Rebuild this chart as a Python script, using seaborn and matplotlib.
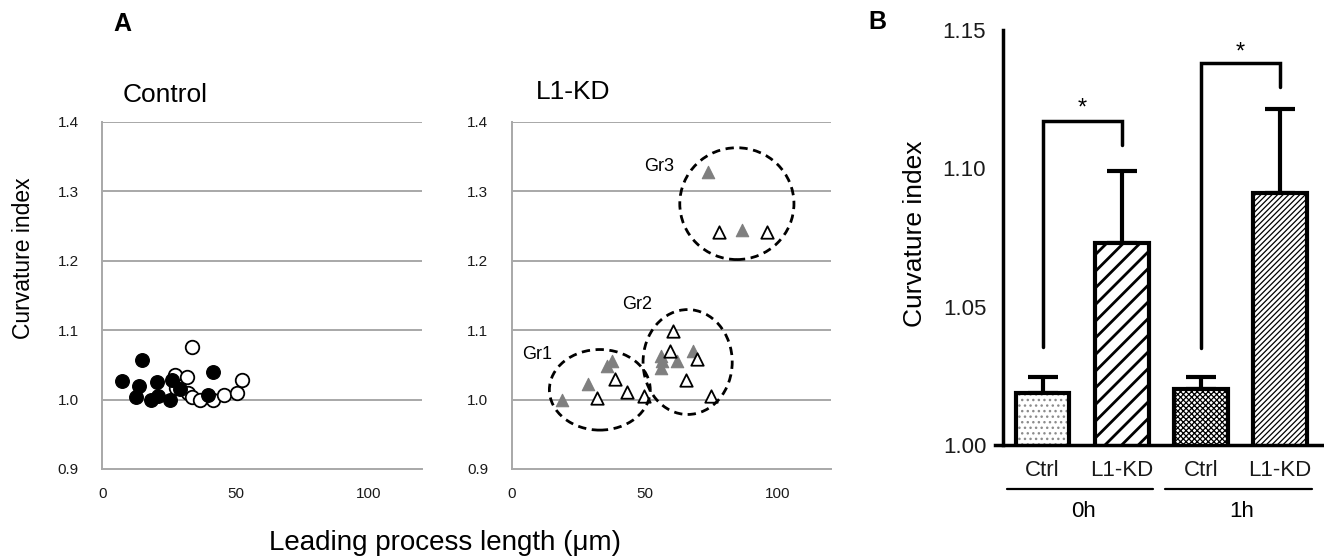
import numpy as np
import pandas as pd
import matplotlib
matplotlib.use('Agg')
import matplotlib.pyplot as plt
from matplotlib.patches import Ellipse, Rectangle
import seaborn as sns

# control panel: filled = one cell type, open = other
ctrl_filled_x = [7.3, 15.0, 13.8, 12.6, 20.5, 18.2, 21.1, 25.5, 26.1, 29.0, 41.7, 39.8]
ctrl_filled_y = [1.026, 1.057, 1.019, 1.004, 1.025, 0.999, 1.005, 1.000, 1.028, 1.015, 1.040, 1.006]
ctrl_open_x = [33.6, 27.3, 31.7, 27.7, 32.3, 33.6, 36.7, 41.7, 45.9, 50.5, 52.4]
ctrl_open_y = [1.076, 1.035, 1.033, 1.017, 1.010, 1.004, 0.999, 1.000, 1.007, 1.010, 1.028]

# L1-KD panel: gray filled triangles and open triangles
kd_gray_x = [18.8, 28.8, 35.8, 37.6, 56.1, 56.5, 56.1, 62.1, 68.0, 73.6, 86.6]
kd_gray_y = [0.999, 1.022, 1.049, 1.055, 1.062, 1.055, 1.046, 1.055, 1.070, 1.327, 1.244]
kd_open_x = [32.0, 38.9, 43.3, 49.6, 60.6, 59.6, 69.7, 65.5, 74.7, 77.8, 96.0]
kd_open_y = [1.002, 1.029, 1.011, 1.005, 1.098, 1.070, 1.058, 1.028, 1.005, 1.241, 1.241]

# bar chart
bar_keys = ['Ctrl_0h', 'L1-KD_0h', 'Ctrl_1h', 'L1-KD_1h']
bar_labels = ['Ctrl', 'L1-KD', 'Ctrl', 'L1-KD']
bar_means = [1.0189, 1.0731, 1.0201, 1.0912]
bar_sem = [0.0056, 0.0260, 0.0044, 0.0301]
group_labels = ['0h', '1h']

sns.set_style('white')
plt.rcParams['font.family'] = ['Liberation Sans', 'DejaVu Sans']
plt.rcParams['text.color'] = 'black'
plt.rcParams['axes.labelcolor'] = 'black'
plt.rcParams['xtick.color'] = 'black'
plt.rcParams['ytick.color'] = 'black'

fig = plt.figure(figsize=(13.24, 5.58), dpi=100)
ax1 = fig.add_axes([0.0773, 0.1595, 0.2412, 0.6224])
ax2 = fig.add_axes([0.3865, 0.1595, 0.2412, 0.6224])
ax3 = fig.add_axes([0.7515, 0.2025, 0.2468, 0.7437])

grid_col = '#a8a8a8'


def style_scatter(ax):
    ax.set_xlim(0, 120)
    ax.set_ylim(0.9, 1.4)
    ax.set_xticks([0, 50, 100])
    ax.set_yticks([0.9, 1.0, 1.1, 1.2, 1.3, 1.4])
    ax.set_yticklabels(['0.9', '1.0', '1.1', '1.2', '1.3', '1.4'])
    for y in [1.0, 1.1, 1.2, 1.3, 1.4]:
        ax.axhline(y, color=grid_col, lw=1.4, zorder=0)
    for s in ['top', 'right']:
        ax.spines[s].set_visible(False)
    for s in ['left', 'bottom']:
        ax.spines[s].set_color(grid_col)
        ax.spines[s].set_linewidth(1.4)
    ax.tick_params(axis='both', direction='out', length=5, width=1.2,
                   color=grid_col, labelsize=11, labelcolor='#1a1a1a')
    ax.tick_params(axis='y', pad=12)
    ax.tick_params(axis='x', pad=8)
    ax.set_xlabel('')
    ax.set_ylabel('')


# Control
sns.scatterplot(x=ctrl_open_x, y=ctrl_open_y, ax=ax1, marker='o', s=95,
                color='white', edgecolor='black', linewidth=1.3, zorder=3)
sns.scatterplot(x=ctrl_filled_x, y=ctrl_filled_y, ax=ax1, marker='o', s=95,
                color='black', edgecolor='black', linewidth=1.0, zorder=4)
style_scatter(ax1)

# L1-KD
sns.scatterplot(x=kd_gray_x, y=kd_gray_y, ax=ax2, marker='^', s=80,
                color='#7f7f7f', edgecolor='#7f7f7f', linewidth=0.8, zorder=3)
sns.scatterplot(x=kd_open_x, y=kd_open_y, ax=ax2, marker='^', s=80,
                color='white', edgecolor='black', linewidth=1.3, zorder=4)
style_scatter(ax2)

for (cx, cy, w, h) in [(33.1, 1.014, 37.9, 0.116), (66.1, 1.054, 33.5, 0.151),
                       (84.6, 1.282, 42.9, 0.161)]:
    ax2.add_patch(Ellipse((cx, cy), w, h, fill=False, edgecolor='black',
                          lw=2.0, linestyle=(0, (3, 2)), zorder=5))
ax2.text(55.2, 1.336, 'Gr3', fontsize=13, ha='center', va='center')
ax2.text(47.0, 1.137, 'Gr2', fontsize=13, ha='center', va='center')
ax2.text(9.4, 1.065, 'Gr1', fontsize=13, ha='center', va='center')

# Bar chart
bars_df = pd.DataFrame({'cond': bar_keys, 'ci': bar_means})
sns.barplot(data=bars_df, x='cond', y='ci', order=bar_keys, ax=ax3,
            color='white', edgecolor='black', linewidth=3, width=0.68,
            errorbar=None, zorder=2)
hatches = ['...', '//', 'xxxxxx', '//////']
hatch_lw = [1.0, 2.0, 0.9, 0.9]
bar_patches = list(ax3.patches)
for patch, h, hl in zip(bar_patches, hatches, hatch_lw):
    patch.set_hatch(h)
    patch.set_facecolor('white')
    if hasattr(patch, 'set_hatch_linewidth'):
        patch.set_hatch_linewidth(hl)

# dotted bar: gray dots, black outline drawn on top
p0 = bar_patches[0]
p0.set_edgecolor('#8c8c8c')
p0.set_linewidth(0)
ax3.add_patch(Rectangle(p0.get_xy(), p0.get_width(), p0.get_height(),
                        fill=False, edgecolor='black', lw=3, zorder=2.5))

xs = np.arange(len(bar_keys))
ax3.errorbar(xs, bar_means, yerr=[np.zeros(len(bar_sem)), bar_sem], fmt='none',
             ecolor='black', elinewidth=3, capsize=11, capthick=3, zorder=1)

ax3.set_xlim(-0.6, 3.525)
ax3.set_ylim(1.0, 1.15)
ax3.set_yticks([1.00, 1.05, 1.10, 1.15])
ax3.set_yticklabels(['1.00', '1.05', '1.10', '1.15'])
ax3.set_xticks(xs)
ax3.set_xticklabels(bar_labels)
ax3.spines['left'].set_position(('data', -0.5))
for s in ['top', 'right']:
    ax3.spines[s].set_visible(False)
for s in ['left', 'bottom']:
    ax3.spines[s].set_linewidth(2.5)
    ax3.spines[s].set_color('black')
ax3.tick_params(axis='both', direction='out', length=8, width=2.5, color='black',
                labelsize=16, labelcolor='#1a1a1a')
ax3.tick_params(axis='x', pad=3)
ax3.tick_params(axis='y', pad=4)
ax3.set_xlabel('')
ax3.set_ylabel('')

# significance brackets
for (x0, x1, yl, yt, yr, ys) in [(0, 1, 1.0355, 1.1172, 1.1085, 1.1215),
                                 (2, 3, 1.0350, 1.1379, 1.1295, 1.1420)]:
    ax3.plot([x0, x0, x1, x1], [yl, yt, yt, yr], color='black', lw=2.5,
             solid_joinstyle='miter', clip_on=False, zorder=3)
    ax3.text((x0 + x1) / 2, ys, '*', fontsize=17, ha='center', va='center')

# group underlines
trans = ax3.get_xaxis_transform()
for (g0, g1, gx, lab) in [(-0.45, 1.40, 0.515, group_labels[0]),
                          (1.55, 3.40, 2.515, group_labels[1])]:
    ax3.plot([g0, g1], [-0.107, -0.107], color='black', lw=1.6,
             transform=trans, clip_on=False)
    ax3.text(gx, -0.161, lab, fontsize=16, ha='center', va='center',
             transform=trans)

# figure texts
fig.text(0.0921, 0.957, 'A', fontsize=18, fontweight='bold', ha='center', va='center')
fig.text(0.6624, 0.9606, 'B', fontsize=18, fontweight='bold', ha='center', va='center')
fig.text(0.1246, 0.8297, 'Control', fontsize=19, ha='center', va='center')
fig.text(0.4332, 0.835, 'L1-KD', fontsize=19, ha='center', va='center')
fig.text(0.0174, 0.5376, 'Curvature index', fontsize=16.5, rotation=90,
         ha='center', va='center')
fig.text(0.3361, 0.0269, 'Leading process length (μm)', fontsize=20,
         ha='center', va='center')
fig.text(0.6911, 0.5806, 'Curvature index', fontsize=19, rotation=90,
         ha='center', va='center')

fig.savefig('out.png', dpi=100)
